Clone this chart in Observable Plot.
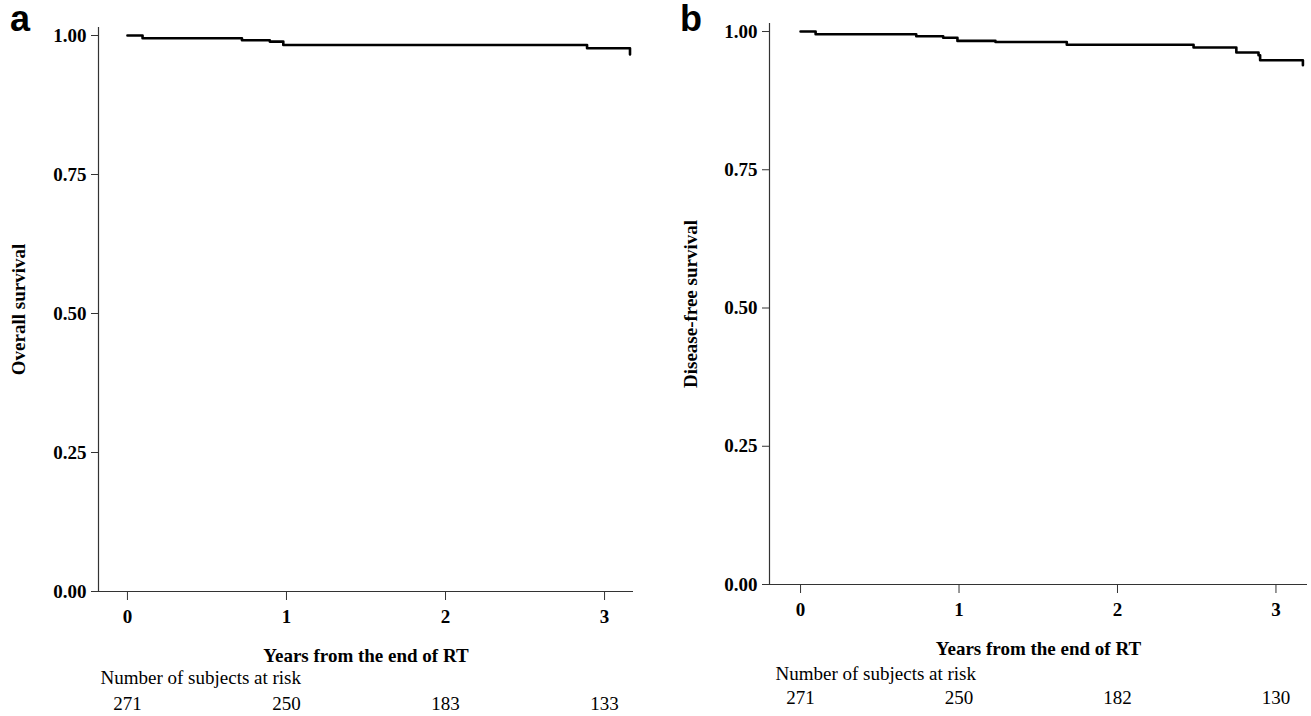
<!DOCTYPE html>
<html><head><meta charset="utf-8">
<script src="https://cdn.jsdelivr.net/npm/d3@7"></script>
<script src="https://cdn.jsdelivr.net/npm/@observablehq/plot@0.6"></script>
<style>
body{margin:0;background:#fff;width:1311px;height:716px;overflow:hidden;position:relative}
.panel{position:absolute;top:0}
.letter{position:absolute;font-family:"Liberation Sans",Arial,sans-serif;font-weight:bold;font-size:36px;line-height:1;color:#000}
</style></head><body>
<div id="pa" class="panel" style="left:0"></div>
<div id="pb" class="panel" style="left:656px"></div>
<div class="letter" style="left:10px;top:1px">a</div>
<div class="letter" style="left:680px;top:1px">b</div>
<script>
// Panel a: overall survival (Kaplan-Meier step points)
const osTime = [0, 0.095, 0.72, 0.895, 0.98, 2.89, 3.16, 3.16];
const osSurv = [1.0, 0.995, 0.9915, 0.989, 0.983, 0.977, 0.977, 0.966];
// Panel b: disease-free survival
const dfsTime = [0, 0.095, 0.73, 0.90, 0.99, 1.23, 1.68, 2.48, 2.75, 2.89, 2.90, 3.17, 3.17];
const dfsSurv = [1.0, 0.995, 0.9915, 0.9886, 0.983, 0.981, 0.976, 0.971, 0.962, 0.957, 0.948, 0.948, 0.939];
// Number at risk
const riskTime = [0, 1, 2, 3];
const osRisk = [271, 250, 183, 133];
const dfsRisk = [271, 250, 182, 130];
// Ticks and labels
const xTicks = [0, 1, 2, 3];
const yTicks = [0, 0.25, 0.5, 0.75, 1];
const xTitle = "Years from the end of RT";
const riskHeader = "Number of subjects at risk";
const osLabel = "Overall survival";
const dfsLabel = "Disease-free survival";

const serif = '"Liberation Serif", "Times New Roman", serif';

function km(el, o) {
  const data = o.time.map((t, i) => ({t, s: o.surv[i]}));
  const risk = riskTime.map((t, i) => ({t, n: o.risk[i]}));
  const chart = Plot.plot({
    width: o.width, height: 716,
    marginLeft: o.ml, marginRight: o.mr, marginTop: o.mt, marginBottom: o.mb,
    style: {fontFamily: serif, fontSize: "19px", color: "#000", background: "#fff", overflow: "visible"},
    x: {domain: o.xDomain},
    y: {domain: o.yDomain},
    marks: [
      Plot.ruleX([o.xDomain[0]], {stroke: "#333", strokeWidth: 1.2}),
      Plot.ruleY([0], {stroke: "#333", strokeWidth: 1.2}),
      Plot.axisY(yTicks, {tickFormat: d3.format(".2f"), tickSize: 7, tickPadding: 5, fontWeight: "bold", fontSize: 19, label: null, stroke: "#333"}),
      Plot.axisX(xTicks, {tickFormat: d3.format("d"), tickSize: 9, tickPadding: 9, fontWeight: "bold", fontSize: 19, label: null, stroke: "#333"}),
      Plot.line(data, {x: "t", y: "s", curve: "step-after", stroke: "#000", strokeWidth: 2.6}),
      Plot.text([o.yLabel], {text: d => d, frameAnchor: "left", rotate: -90, dx: -(o.ml - o.ylabX), textAnchor: "middle", lineAnchor: "middle", fontWeight: "bold", fontSize: 19}),
      Plot.text([xTitle], {text: d => d, frameAnchor: "bottom", dy: o.dyTitle, lineAnchor: "middle", fontWeight: "bold", fontSize: 19}),
      Plot.text([riskHeader], {text: d => d, frameAnchor: "bottom-left", dx: o.hdx, dy: o.dyHeader, textAnchor: "start", lineAnchor: "middle", fontSize: 19}),
      Plot.text(risk, {x: "t", text: d => String(d.n), frameAnchor: "bottom", dy: o.dyRisk, lineAnchor: "middle", fontSize: 19})
    ]
  });
  document.getElementById(el).append(chart);
}

km("pa", {time: osTime, surv: osSurv, risk: osRisk, yLabel: osLabel,
  width: 656, ml: 98, mr: 23, mt: 27, mb: 125, ylabX: 18,
  xDomain: [-0.182, 3.182], yDomain: [0, 1.0144],
  dyTitle: 64, dyHeader: 86, dyRisk: 112, hdx: 2});

km("pb", {time: dfsTime, surv: dfsSurv, risk: dfsRisk, yLabel: dfsLabel,
  width: 655, ml: 113, mr: 4, mt: 23, mb: 132, ylabX: 34,
  xDomain: [-0.196, 3.199], yDomain: [0, 1.0145],
  dyTitle: 64, dyHeader: 89, dyRisk: 113, hdx: 6});
</script>
</body></html>
